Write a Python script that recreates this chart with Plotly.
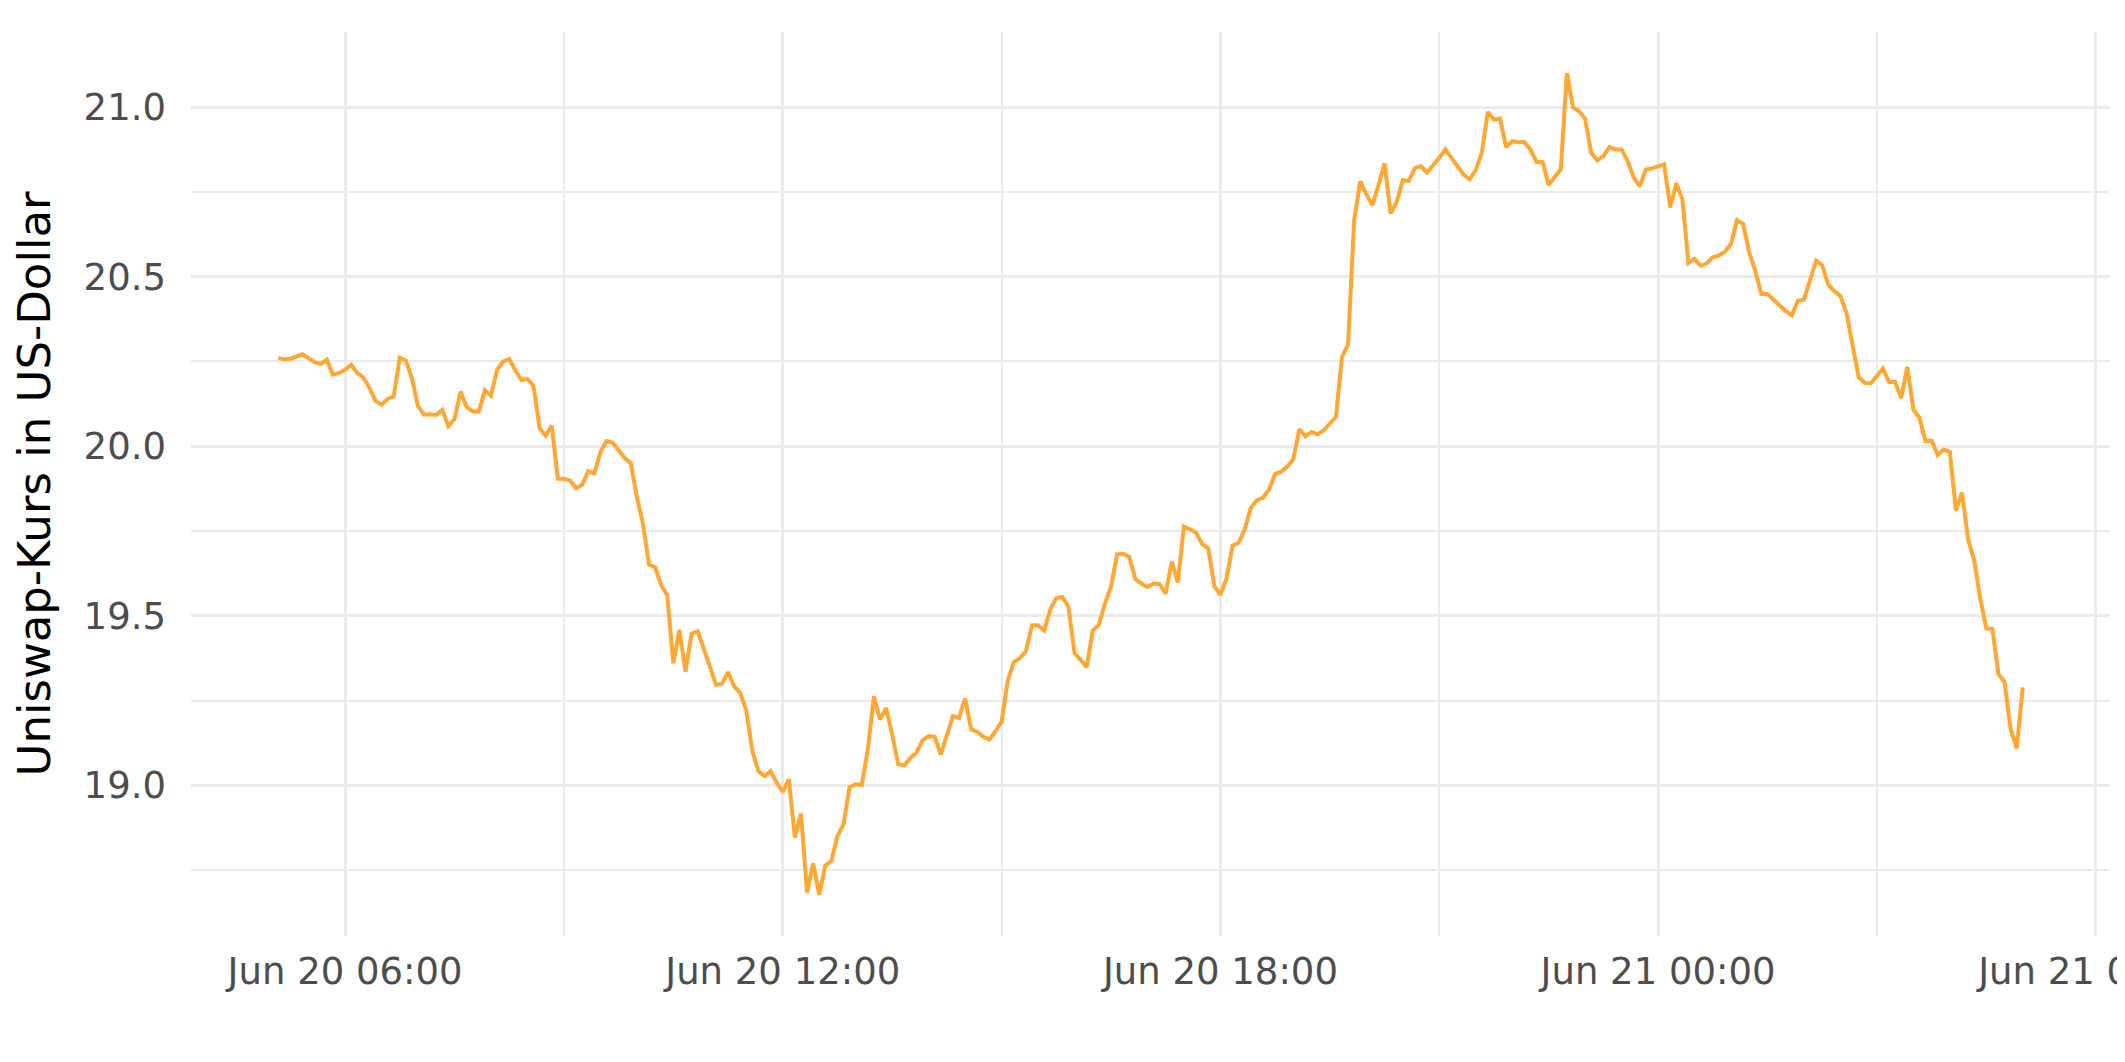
import pandas as pd
import plotly.graph_objects as go

# 5-minute Uniswap (UNI) price readings, starting Jun 20 05:05
start_time = "2021-06-20 05:05"
step_minutes = 5
prices = [
    20.260, 20.256, 20.258, 20.263, 20.271, 20.259, 20.247, 20.243, 20.255, 20.211,
    20.216, 20.225, 20.240, 20.216, 20.203, 20.172, 20.134, 20.122, 20.139, 20.147,
    20.261, 20.252, 20.200, 20.118, 20.093, 20.094, 20.092, 20.107, 20.059, 20.080,
    20.161, 20.115, 20.103, 20.102, 20.165, 20.149, 20.225, 20.249, 20.257, 20.224,
    20.195, 20.198, 20.178, 20.053, 20.031, 20.061, 19.904, 19.904, 19.899, 19.876,
    19.886, 19.926, 19.920, 19.982, 20.015, 20.011, 19.986, 19.965, 19.950, 19.850,
    19.772, 19.651, 19.643, 19.590, 19.561, 19.360, 19.458, 19.335, 19.447, 19.454,
    19.403, 19.349, 19.297, 19.299, 19.334, 19.292, 19.273, 19.221, 19.101, 19.042,
    19.027, 19.042, 19.008, 18.981, 19.018, 18.846, 18.917, 18.684, 18.770, 18.677,
    18.763, 18.777, 18.851, 18.885, 18.995, 19.003, 19.001, 19.106, 19.263, 19.194,
    19.228, 19.150, 19.062, 19.059, 19.081, 19.096, 19.133, 19.145, 19.143, 19.091,
    19.147, 19.204, 19.199, 19.256, 19.165, 19.158, 19.143, 19.135, 19.160, 19.187,
    19.307, 19.363, 19.375, 19.395, 19.472, 19.472, 19.456, 19.518, 19.552, 19.555,
    19.527, 19.390, 19.370, 19.348, 19.456, 19.473, 19.535, 19.586, 19.681, 19.683,
    19.674, 19.609, 19.595, 19.585, 19.595, 19.593, 19.565, 19.660, 19.598, 19.763,
    19.755, 19.745, 19.712, 19.699, 19.588, 19.562, 19.609, 19.707, 19.715, 19.755,
    19.818, 19.841, 19.848, 19.872, 19.918, 19.925, 19.939, 19.962, 20.050, 20.029,
    20.042, 20.035, 20.047, 20.066, 20.086, 20.263, 20.299, 20.665, 20.781, 20.743,
    20.710, 20.769, 20.834, 20.686, 20.720, 20.784, 20.782, 20.820, 20.825, 20.807,
    20.827, 20.850, 20.875, 20.850, 20.828, 20.801, 20.787, 20.814, 20.865, 20.985,
    20.963, 20.966, 20.882, 20.899, 20.896, 20.897, 20.875, 20.838, 20.838, 20.770,
    20.794, 20.816, 21.100, 21.000, 20.987, 20.966, 20.865, 20.843, 20.855, 20.882,
    20.875, 20.875, 20.841, 20.792, 20.767, 20.816, 20.819, 20.824, 20.831, 20.704,
    20.775, 20.728, 20.540, 20.552, 20.532, 20.539, 20.557, 20.562, 20.573, 20.596,
    20.667, 20.655, 20.571, 20.516, 20.449, 20.449, 20.432, 20.419, 20.398, 20.386,
    20.429, 20.432, 20.491, 20.547, 20.534, 20.476, 20.457, 20.443, 20.392, 20.294,
    20.204, 20.187, 20.185, 20.207, 20.229, 20.189, 20.189, 20.142, 20.234, 20.108,
    20.084, 20.015, 20.016, 19.974, 19.990, 19.983, 19.810, 19.863, 19.726, 19.664,
    19.551, 19.463, 19.461, 19.328, 19.305, 19.165, 19.109, 19.289,
]
times = pd.date_range(start=start_time, periods=len(prices), freq=f"{step_minutes}min")

y_title = "Uniswap-Kurs in US-Dollar"
line_color = "#FFA733"
grid_color = "#EBEBEB"
tick_color = "#4D4D4D"
font_family = "DejaVu Sans"

# ggplot-style 5% expansion of the data range
t0, t1 = times[0], times[-1]
tpad = (t1 - t0) * 0.05
ymin, ymax = min(prices), max(prices)
ypad = (ymax - ymin) * 0.05

fig = go.Figure()
fig.add_trace(go.Scatter(
    x=times, y=prices, mode="lines",
    line=dict(color=line_color, width=4),
    hoverinfo="x+y", showlegend=False,
))

fig.update_layout(
    width=2125, height=1062,
    margin=dict(l=183, r=23, t=24, b=134, autoexpand=False),
    paper_bgcolor="white", plot_bgcolor="white",
    font=dict(family=font_family, color=tick_color, size=37),
)

fig.update_xaxes(
    type="date",
    range=[t0 - tpad, t1 + tpad],
    tick0="2021-06-20 06:00", dtick=6 * 3600 * 1000,
    tickformat="%b %d %H:%M",
    showgrid=True, gridcolor=grid_color, gridwidth=3.4,
    minor=dict(dtick=3 * 3600 * 1000, tick0="2021-06-20 03:00",
               showgrid=True, gridcolor=grid_color, gridwidth=2),
    zeroline=False, showline=False, ticks="",
    ticklabelstandoff=10,
    ticklabeloverflow="allow",
    tickfont=dict(size=37, color=tick_color, family=font_family),
)

fig.update_yaxes(
    range=[ymin - ypad, ymax + ypad],
    tick0=19.0, dtick=0.5, tickformat=".1f",
    showgrid=True, gridcolor=grid_color, gridwidth=3.4,
    minor=dict(dtick=0.25, tick0=19.0, showgrid=True, gridcolor=grid_color, gridwidth=2),
    zeroline=False, showline=False, ticks="",
    ticklabelstandoff=24,
    tickfont=dict(size=37, color=tick_color, family=font_family),
    title=dict(text=y_title, standoff=20,
               font=dict(size=45, color="black", family=font_family)),
)

fig.write_html("out.html")
